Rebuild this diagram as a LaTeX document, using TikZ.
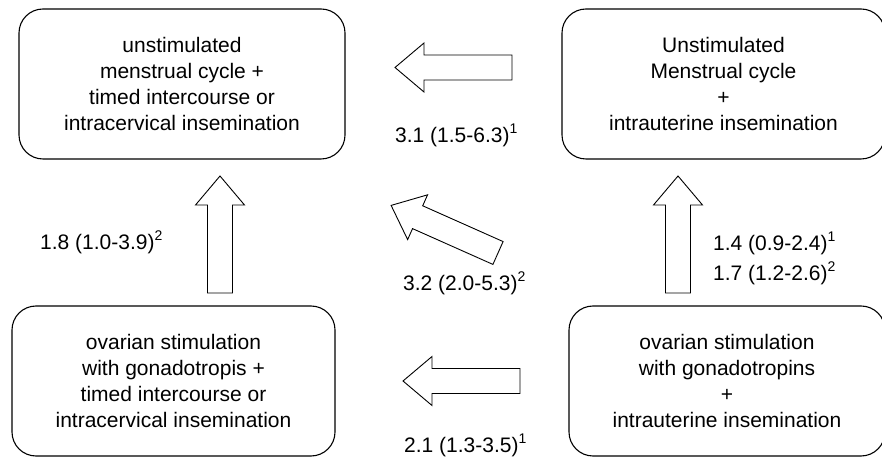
\documentclass[tikz,border=0pt]{standalone}
\usepackage{fontspec}
\setmainfont{Liberation Sans}
\newcommand{\rsup}[1]{\raisebox{0.42em}{\fontsize{14}{14}\selectfont #1}}
\begin{document}
\begin{tikzpicture}[x=1pt,y=1pt,
  font=\fontsize{21}{26}\selectfont,
  box/.style={draw, line width=1.1pt, rounded corners=24pt, align=center,
    inner sep=0pt, minimum height=150pt},
  ratio/.style={anchor=west, inner sep=0pt},
  blockarrow/.pic={\draw[line width=0.9pt, line join=miter]
    (0,12.5) -- (88,12.5) -- (88,24.5) -- (117,0) -- (88,-24.5)
    -- (88,-12.5) -- (0,-12.5) -- cycle;}]
\clip (0,0) rectangle (882,457);
% Treatment boxes
\node[box, minimum width=326pt] (umti) at (182,373)
  {unstimulated\\menstrual cycle +\\timed intercourse or\\intracervical insemination};
\node[box, minimum width=323pt] (umiui) at (723.5,373)
  {Unstimulated\\Menstrual cycle\\+\\intrauterine insemination};
\node[box, minimum width=323pt] (osti) at (173.5,76)
  {ovarian stimulation\\with gonadotropis +\\timed intercourse or\\intracervical insemination};
\node[box, minimum width=316pt] (osiui) at (727,76)
  {ovarian stimulation\\with gonadotropins\\+\\intrauterine insemination};
% Block arrows
\pic[rotate=180] at (512,389.5) {blockarrow};
\pic[rotate=180] at (520,76) {blockarrow};
\pic[rotate=90] at (220,164) {blockarrow};
\pic[rotate=90] at (678,164) {blockarrow};
\pic[rotate=156] at (498,204) {blockarrow};
% Odds ratios
\node[ratio] (or31) at (395,322) {3.1 (1.5-6.3)\rsup{1}};
\node[ratio] (or18) at (40,215) {1.8 (1.0-3.9)\rsup{2}};
\node[ratio] (or32) at (403,174) {3.2 (2.0-5.3)\rsup{2}};
\node[ratio] (or14) at (713,214) {1.4 (0.9-2.4)\rsup{1}};
\node[ratio] (or17) at (713,184) {1.7 (1.2-2.6)\rsup{2}};
\node[ratio] (or21) at (404,12) {2.1 (1.3-3.5)\rsup{1}};
\end{tikzpicture}
\end{document}
